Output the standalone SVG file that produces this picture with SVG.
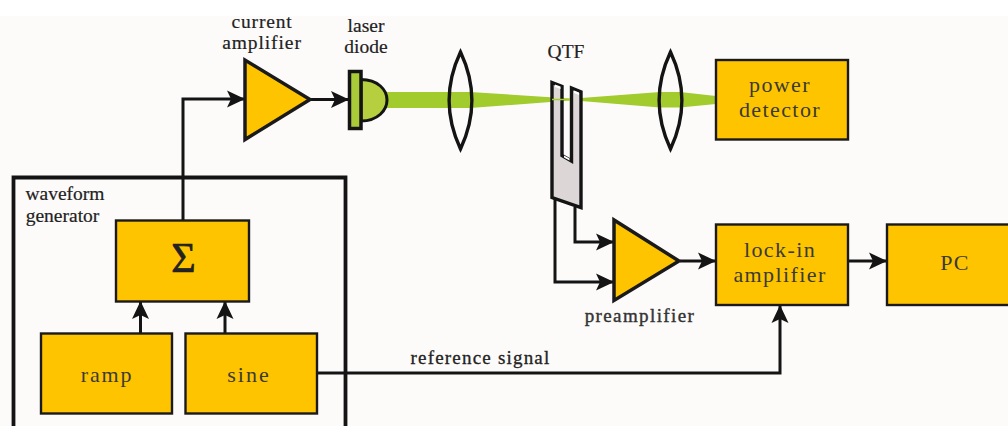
<svg xmlns="http://www.w3.org/2000/svg" width="1008" height="426" viewBox="0 0 1008 426">
<style>
.b{fill:#ffc400;stroke:#1a1a1a;stroke-width:2.400}
.t{fill:#ffc400;stroke:#1a1a1a;stroke-width:3.500;stroke-linejoin:miter}
.a{fill:none;stroke:#141414;stroke-width:3;marker-end:url(#h)}
.l{fill:none;stroke:#141414;stroke-width:3.400;stroke-linejoin:miter}
text{font-family:"Liberation Serif","Times New Roman",serif;text-anchor:middle}
.o{font-size:19.500px;fill:#222;stroke:#222;stroke-width:.2px}
.i{font-size:22px;fill:#3a3a32;letter-spacing:1.400px}
</style>
<defs>
<marker id="h" markerUnits="userSpaceOnUse" markerWidth="20" markerHeight="20" refX="18" refY="10" orient="auto">
<path d="M0 1.500L18 10L0 18.500L4 10Z" fill="#141414"/>
</marker>
</defs>
<rect width="1008" height="426" fill="#fdfbfa"/>
<rect width="1008" height="16" fill="#fff"/>
<g id="connectors">
<path class="a" d="M183 220V99H245"/>
<path class="a" d="M311 99.500H349"/>
<path class="a" d="M140.500 333V301"/>
<path class="a" d="M225 333V301"/>
<path class="a" d="M317 373H780V305"/>
<path class="a" d="M575 207V242H614"/>
<path class="a" d="M555 198V282H614"/>
<path class="a" d="M680 261H716"/>
<path class="a" d="M848 261H887"/>
</g>
<g id="waveform-generator">
<path d="M13.500 426V177.500H345.500V426" fill="none" stroke="#141414" stroke-width="3.800"/>
<text class="o" x="65" y="200">waveform</text>
<text class="o" x="62.500" y="222">generator</text>
</g>
<g id="sum"><rect class="b" x="116" y="220.500" width="133" height="81"/><text x="183.500" y="272" font-size="42" fill="#222" stroke="#222" stroke-width=".7">Σ</text></g>
<g id="ramp"><rect class="b" x="41" y="333.500" width="131" height="80"/><text class="i" x="107" y="382" style="letter-spacing:1.800px">ramp</text></g>
<g id="sine"><rect class="b" x="185.500" y="333.500" width="131.500" height="80"/><text class="i" x="249" y="382" style="letter-spacing:2px">sine</text></g>
<g id="beam">
<path d="M385 92H470L570 98.500V100.500L470 108H385Z" fill="#a2cb2e"/>
<path d="M581 98L660 92H680L716 96V104L680 107.500H660L581 101Z" fill="#a2cb2e"/>
</g>
<g id="current-amplifier">
<path class="t" d="M245 60V139.500L310 99.500Z"/>
<text class="o" x="262" y="28" style="letter-spacing:.8px">current</text>
<text class="o" x="262" y="49" style="letter-spacing:.9px">amplifier</text>
</g>
<g id="laser-diode">
<path d="M361 79.500C378 79.500 387 90 387 100C387 110 378 121 361 121Z" fill="#b5cf3f" stroke="#141414" stroke-width="3"/>
<rect x="349.500" y="71.500" width="11.500" height="57" fill="#a9cb37" stroke="#141414" stroke-width="3.500"/>
<text class="o" x="366" y="32">laser</text>
<text class="o" x="366" y="53">diode</text>
</g>
<g id="lens-1"><path class="l" d="M460.500 52C445 85 445 116 460.500 149C476 116 476 85 460.500 52Z"/></g>
<g id="qtf">
<path d="M552 82.500L562 86.500V155.500L571.500 161V88L581 92V207.500L552 197.500Z" fill="#dcd6d6" stroke="#141414" stroke-width="3.400" stroke-linejoin="miter"/>
<path d="M555 84.500L560.500 86.500V89L555 87Z M574 90.500L579 92.500V95L574 93Z M564 155.500L569.500 158.500V160.500L564 157.500Z" fill="#fff"/>
<path d="M552 99.500H570" stroke="#a2cb2e" stroke-width="1.500" fill="none"/>
<text class="o" x="566" y="58">QTF</text>
</g>
<g id="lens-2"><path class="l" d="M670.500 52C655 85 655 116 670.500 149C686 116 686 85 670.500 52Z"/></g>
<g id="power-detector"><rect class="b" x="716" y="60" width="132" height="79.500"/><text class="i" x="780" y="92">power</text><text class="i" x="780" y="117">detector</text></g>
<g id="preamplifier">
<path class="t" d="M614 220V300.500L679 261Z"/>
<text x="640" y="322" font-size="19" fill="#333" stroke="#333" stroke-width=".4" letter-spacing="1.400">preamplifier</text>
</g>
<g id="lock-in-amplifier"><rect class="b" x="716" y="224.500" width="132" height="80.500"/><text class="i" x="780" y="257">lock-in</text><text class="i" x="780" y="282">amplifier</text></g>
<g id="pc"><rect class="b" x="887" y="224.500" width="123" height="80.500"/><text class="i" x="955" y="270">PC</text></g>
<text x="480.500" y="364" font-size="19" fill="#222" stroke="#222" stroke-width=".3" letter-spacing="1.200">reference signal</text>
</svg>
